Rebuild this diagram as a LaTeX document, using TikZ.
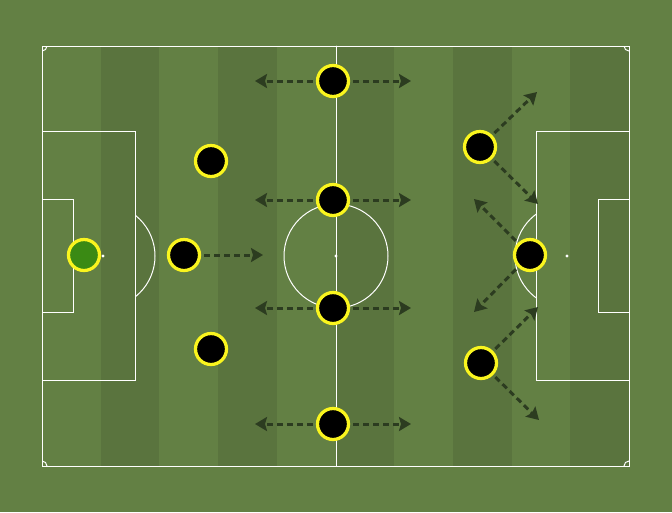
\documentclass[tikz,border=0pt]{standalone}
\usepackage{tkz-euclide}
\usetikzlibrary{arrows.meta}

\definecolor{grass}{RGB}{99,128,68}
\definecolor{stripe}{RGB}{90,116,62}
\definecolor{runline}{RGB}{44,60,32}
\definecolor{keeper}{RGB}{58,138,20}
\definecolor{kit}{RGB}{250,245,30}

\tikzset{
  pitchline/.style={draw=white,line width=0.02cm},
  player/.style={circle,fill=black,draw=kit,line width=0.065cm,minimum size=0.62cm,inner sep=0pt},
  goalie/.style={player,fill=keeper},
  run/.style={draw=runline,line width=0.06cm,dash pattern=on 0.12cm off 0.08cm,
    shorten <=0.06cm,-{Stealth[length=0.24cm,width=0.28cm,inset=0.04cm]}}
}

\begin{document}
\begin{tikzpicture}[x=0.02cm,y=-0.02cm]
                \useasboundingbox (0,0) rectangle (672,512);
                \fill[grass] (0,0) rectangle (672,512);
                % stripes
                \foreach \s in {1,3,5,7,9}
                  \fill[stripe] ({42+\s*58.7},46) rectangle ({42+(\s+1)*58.7},466);
                % pitch
                \tkzDefPoints{42/46/A,629/46/B,629/466/C,42/466/D}
                \tkzDefPoints{336/46/T,336/466/U,336/256/O,103/256/Ls,567/256/Rs}
                \tkzDefPoints{42/131/La,135/380/Lb,42/199/Lc,73/312/Ld}
                \tkzDefPoints{629/131/Ra,536/380/Rb,629/199/Rc,598/312/Rd}
                \draw[pitchline] (A) rectangle (C);
                \tkzDrawSegments[pitchline](T,U)
                \draw[pitchline] (La) rectangle (Lb) (Lc) rectangle (Ld);
                \draw[pitchline] (Ra) rectangle (Rb) (Rc) rectangle (Rd);
                \draw[pitchline] (O) circle (52);
                \begin{scope}
                  \clip (A) rectangle (C);
                  \foreach \c in {A,B,C,D}
                    \draw[pitchline] (\c) circle (5);
                \end{scope}
                \begin{scope}
                  \clip (135,131) rectangle (536,380);
                  \draw[pitchline] (Ls) circle (52) (Rs) circle (52);
                \end{scope}
                \foreach \c in {O,Ls,Rs}
                  \fill[white] (\c) circle (1.6);
                % run ends
                \tkzDefPoints{263/255/e1,255/81/e2,411/81/e3,255/200/e4,411/200/e5}
                \tkzDefPoints{255/308/e6,411/308/e7,255/424/e8,411/424/e9}
                \tkzDefPoints{537/92/e10,538/204/e11,474/199/e12,474/312/e13}
                \tkzDefPoints{538/307/e14,539/420/e15}
                % players
                \node[goalie] (gk) at (84,255) {};
                \node[player] (lb) at (211,161) {};
                \node[player] (cb) at (184,255) {};
                \node[player] (rb) at (211,349) {};
                \node[player] (m1) at (333,81) {};
                \node[player] (m2) at (333,200) {};
                \node[player] (m3) at (333,308) {};
                \node[player] (m4) at (333,424) {};
                \node[player] (f1) at (480,147) {};
                \node[player] (f2) at (530,255) {};
                \node[player] (f3) at (481,363) {};
                % runs
                \draw[run] (cb) -- (e1);
                \draw[run] (m1) -- (e2); \draw[run] (m1) -- (e3);
                \draw[run] (m2) -- (e4); \draw[run] (m2) -- (e5);
                \draw[run] (m3) -- (e6); \draw[run] (m3) -- (e7);
                \draw[run] (m4) -- (e8); \draw[run] (m4) -- (e9);
                \draw[run] (f1) -- (e10); \draw[run] (f1) -- (e11);
                \draw[run] (f2) -- (e12); \draw[run] (f2) -- (e13);
                \draw[run] (f3) -- (e14); \draw[run] (f3) -- (e15);
            \end{tikzpicture}
\end{document}
